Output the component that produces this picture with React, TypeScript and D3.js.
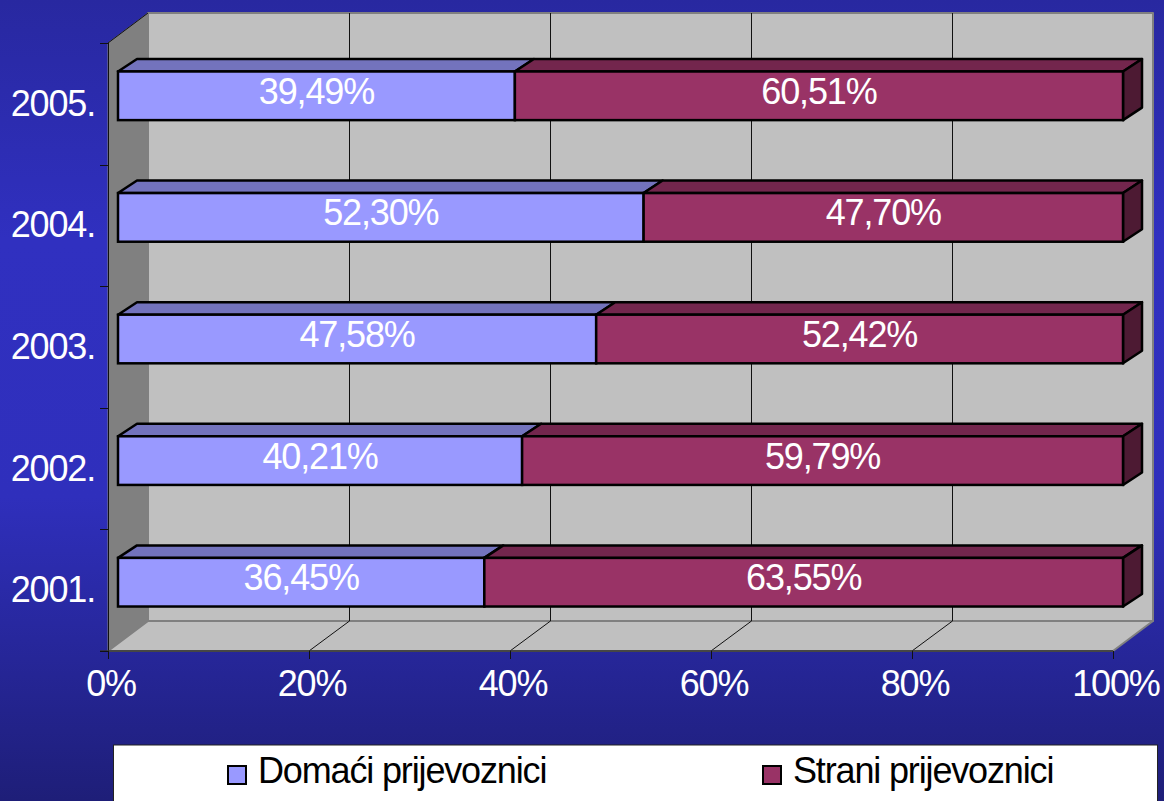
import React, { useEffect, useRef } from "react";
import * as d3 from "d3";

const years = ["2005.", "2004.", "2003.", "2002.", "2001."];
const domaci = [39.49, 52.3, 47.58, 40.21, 36.45];
const strani = [60.51, 47.7, 52.42, 59.79, 63.55];
const seriesNames = ["Domaći prijevoznici", "Strani prijevoznici"];
const xTicks = [0, 20, 40, 60, 80, 100];

const W = 1164;
const H = 801;
const fontFamily = "'Liberation Sans', Arial, sans-serif";
const fontSize = 36;
const tracking = -1.15;

// colours per series: front, top, side
const colors = [
  { front: "#9999ff", top: "#7373bd", side: "#4d4d80" },
  { front: "#993366", top: "#73264d", side: "#4d1a33" },
];

const pct = (v: number) => v.toFixed(2).replace(".", ",") + "%";
const crisp = (v: number) => Math.round(v) + 0.5;

export default function App() {
  const ref = useRef<SVGSVGElement | null>(null);

  useEffect(() => {
    const svg = d3.select(ref.current);
    svg.selectAll("*").remove();

    // chart box: front plane left/right/bottom and the depth of the 3d walls
    const left = 108;
    const right = 1113;
    const top = 43;
    const bottom = 651;
    const depthX = 40;
    const depthY = 30;

    const x = d3.scaleLinear().domain([0, 100]).range([left, right]);
    const yTicks = d3.scaleLinear().domain([0, years.length]).range([top, bottom]);
    // bars stand a quarter of the way into the depth
    const barDX = 10;
    const barDY = 8;
    const y = d3
      .scaleBand()
      .domain(years)
      .range([top - barDY, bottom - barDY])
      .paddingInner(0.6)
      .paddingOuter(0.3);

    const defs = svg.append("defs");
    const grad = defs
      .append("linearGradient")
      .attr("id", "bg")
      .attr("x1", 0)
      .attr("x2", 0)
      .attr("y1", 0)
      .attr("y2", 1);
    grad.append("stop").attr("offset", "0%").attr("stop-color", "#2828a0");
    grad.append("stop").attr("offset", "30%").attr("stop-color", "#3030c0");
    grad.append("stop").attr("offset", "62%").attr("stop-color", "#2f2fbc");
    grad.append("stop").attr("offset", "100%").attr("stop-color", "#1e1e78");

    svg.append("rect").attr("width", W).attr("height", H).attr("fill", "url(#bg)");

    // walls
    const poly = (pts: number[][], fill: string, stroke = "#808080", sw = 2) =>
      svg
        .append("polygon")
        .attr("points", pts.map((p) => p.join(",")).join(" "))
        .attr("fill", fill)
        .attr("stroke", stroke)
        .attr("stroke-width", sw)
        .attr("stroke-linejoin", "round");

    const label = (sel: any, fill = "#fff") =>
      sel
        .attr("font-family", fontFamily)
        .attr("font-size", fontSize)
        .attr("letter-spacing", tracking)
        .attr("fill", fill);

    poly(
      [
        [left + depthX, top - depthY],
        [right + depthX, top - depthY],
        [right + depthX, bottom - depthY],
        [left + depthX, bottom - depthY],
      ],
      "#c0c0c0"
    );
    poly(
      [
        [left, top],
        [left + depthX, top - depthY],
        [left + depthX, bottom - depthY],
        [left, bottom],
      ],
      "#808080",
      "#808080",
      1
    );
    poly(
      [
        [left, bottom],
        [left + depthX, bottom - depthY],
        [right + depthX, bottom - depthY],
        [right, bottom],
      ],
      "#c0c0c0"
    );

    // gridlines on back wall and floor
    xTicks.slice(1, -1).forEach((t) => {
      const gx = crisp(x(t) + depthX);
      svg
        .append("path")
        .attr("d", `M${x(t)},${bottom} L${gx},${bottom - depthY} L${gx},${top - depthY}`)
        .attr("fill", "none")
        .attr("stroke", "#111")
        .attr("stroke-width", 1);
    });

    // outer axis lines
    svg
      .append("path")
      .attr("d", `M${left},${top} L${left + depthX},${top - depthY}`)
      .attr("stroke", "#111")
      .attr("fill", "none");
    svg
      .append("line")
      .attr("x1", crisp(left))
      .attr("x2", crisp(left))
      .attr("y1", top)
      .attr("y2", bottom + 8)
      .attr("stroke", "#111");
    svg
      .append("line")
      .attr("x1", left - 8)
      .attr("x2", right)
      .attr("y1", bottom)
      .attr("y2", bottom)
      .attr("stroke", "#333")
      .attr("stroke-width", 1.5);

    // ticks
    d3.range(years.length + 1).forEach((i) => {
      svg
        .append("line")
        .attr("x1", left - 8)
        .attr("x2", left)
        .attr("y1", crisp(yTicks(i)))
        .attr("y2", crisp(yTicks(i)))
        .attr("stroke", "#111");
    });
    xTicks.forEach((t) => {
      svg
        .append("line")
        .attr("x1", crisp(x(t)))
        .attr("x2", crisp(x(t)))
        .attr("y1", bottom)
        .attr("y2", bottom + 8)
        .attr("stroke", "#111");
      label(
        svg
          .append("text")
          .attr("x", x(t) + 3)
          .attr("y", bottom + 45)
          .attr("text-anchor", "middle")
      ).text(t + "%");
    });

    // stacked bars
    const rows = years.map((yr, i) => ({ year: yr, a: domaci[i], b: strani[i] }));
    const stacked = d3.stack<any>().keys(["a", "b"])(rows);
    const dx = 19;
    const dy = 12.5;
    const bh = y.bandwidth();

    stacked.forEach((layer, k) => {
      layer.forEach((d) => {
        const yr = d.data.year as string;
        const x0 = x(d[0]) + barDX;
        const x1 = x(d[1]) + barDX;
        const y0 = y(yr) as number;
        const c = colors[k];
        poly(
          [
            [x0, y0],
            [x0 + dx, y0 - dy],
            [x1 + dx, y0 - dy],
            [x1, y0],
          ],
          c.top,
          "#000",
          2.5
        );
        if (k === stacked.length - 1) {
          poly(
            [
              [x1, y0],
              [x1 + dx, y0 - dy],
              [x1 + dx, y0 + bh - dy],
              [x1, y0 + bh],
            ],
            c.side,
            "#000",
            2.5
          );
        }
        svg
          .append("rect")
          .attr("x", x0)
          .attr("y", y0)
          .attr("width", x1 - x0)
          .attr("height", bh)
          .attr("fill", c.front)
          .attr("stroke", "#000")
          .attr("stroke-width", 2.5);
      });
    });

    // value labels go on top of all bars
    stacked.forEach((layer) => {
      layer.forEach((d) => {
        const yr = d.data.year as string;
        label(
          svg
            .append("text")
            .attr("x", (x(d[0]) + x(d[1])) / 2 + barDX)
            .attr("y", (y(yr) as number) + bh / 2 + 8)
            .attr("text-anchor", "middle")
        ).text(pct(d[1] - d[0]));
      });
    });

    // category labels
    years.forEach((yr, i) => {
      label(
        svg
          .append("text")
          .attr("x", 95)
          .attr("y", (yTicks(i) + yTicks(i + 1)) / 2 + 12)
          .attr("text-anchor", "end")
      ).text(yr);
    });

    // legend
    svg
      .append("rect")
      .attr("x", 113.5)
      .attr("y", 745)
      .attr("width", 1044)
      .attr("height", 60)
      .attr("fill", "#fff")
      .attr("stroke", "#222")
      .attr("stroke-width", 1);

    const legendX = [228, 763];
    seriesNames.forEach((name, k) => {
      svg
        .append("rect")
        .attr("x", legendX[k])
        .attr("y", 766)
        .attr("width", 18)
        .attr("height", 18)
        .attr("fill", colors[k].front)
        .attr("stroke", "#000")
        .attr("stroke-width", 2);
      label(
        svg
          .append("text")
          .attr("x", legendX[k] + 30)
          .attr("y", 783),
        "#000"
      ).text(name);
    });
  }, []);

  return (
    <svg
      ref={ref}
      width={W}
      height={H}
      style={{ position: "fixed", left: 0, top: 0, display: "block" }}
    />
  );
}
